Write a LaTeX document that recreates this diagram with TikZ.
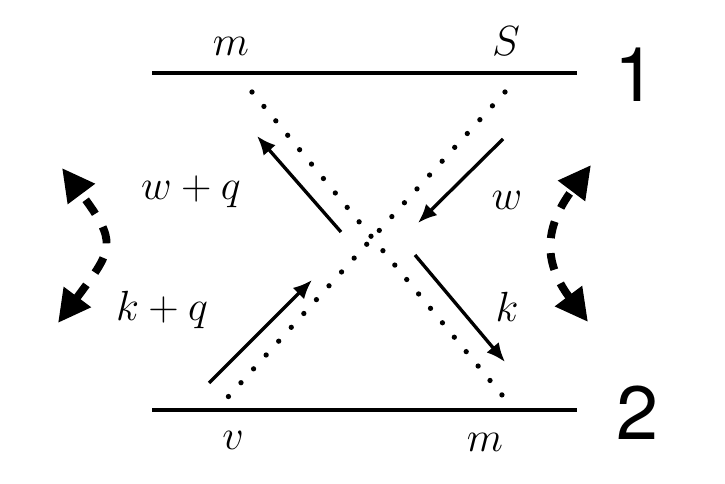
\RequirePackage{fix-cm}
\documentclass[tikz,border=0pt]{standalone}
\usepackage{fontspec}
\newfontfamily\numfont{TeX Gyre Heros}
\usetikzlibrary{arrows.meta}

\begin{document}
\begin{tikzpicture}[
    level/.style={line width=2pt},
    dotline/.style={line width=3pt, line cap=round, dash pattern=on 0pt off 0.374cm},
    mom/.style={line width=1.9pt, -{Latex[length=0.38cm,width=0.32cm]}},
    swap/.style={line width=4.5pt, dash pattern=on 0.34cm off 0.3cm,
        {Triangle[length=0.65cm,width=0.64cm]}-{Triangle[length=0.65cm,width=0.64cm]}},
    lbl/.style={font=\fontsize{24}{28}\selectfont},
    num/.style={font=\numfont\fontsize{43}{48}\selectfont}
]
    \useasboundingbox (0,0) rectangle (14.5,9.68);
    % the two levels
    \coordinate (t1) at (3.04,8.22);
    \coordinate (t2) at (11.54,8.22);
    \coordinate (b1) at (3.04,1.48);
    \coordinate (b2) at (11.54,1.48);
    \draw[level] (t1) -- (t2);
    \draw[level] (b1) -- (b2);
    \node[num] (one) at (12.70,8.19) {1};
    \node[num] (two) at (12.74,1.42) {2};
    % dotted crossing lines
    \coordinate (mt) at (5.04,7.84);
    \coordinate (mb) at (10.04,1.78);
    \coordinate (st) at (10.10,7.84);
    \coordinate (vb) at (4.56,1.74);
    \draw[dotline] (mt) -- (mb);
    \draw[dotline] (st) -- (vb);
    % momentum arrows
    \coordinate (a1) at (6.82,5.04);
    \coordinate (a2) at (5.14,6.96);
    \coordinate (b3) at (10.06,6.90);
    \coordinate (b4) at (8.36,5.22);
    \coordinate (c1) at (8.30,4.58);
    \coordinate (c2) at (10.10,2.44);
    \coordinate (d1) at (4.18,2.02);
    \coordinate (d2) at (6.24,4.08);
    \draw[mom] (a1) -- (a2);
    \draw[mom] (b3) -- (b4);
    \draw[mom] (c1) -- (c2);
    \draw[mom] (d1) -- (d2);
    % exchange arrows
    \coordinate (lb) at (1.16,3.22);
    \coordinate (lt) at (1.24,6.32);
    \coordinate (rb) at (11.76,3.24);
    \coordinate (rt) at (11.82,6.38);
    \draw[swap] (lb) .. controls +(1.12,1.5) and +(1.12,-1.5) .. (lt);
    \draw[swap] (rb) .. controls +(-0.92,1.22) and +(-0.92,-1.22) .. (rt);
    % labels
    \node[lbl] (mtop) at (4.62,8.76) {$m$};
    \node[lbl] (S) at (10.12,8.86) {$S$};
    \node[lbl] (v) at (4.66,0.88) {$v$};
    \node[lbl] (mbot) at (9.70,0.84) {$m$};
    \node[lbl] (wq) at (3.82,5.84) {$w+q$};
    \node[lbl] (w) at (10.14,5.68) {$w$};
    \node[lbl] (kq) at (3.24,3.48) {$k+q$};
    \node[lbl] (k) at (10.14,3.54) {$k$};
\end{tikzpicture}
\end{document}
